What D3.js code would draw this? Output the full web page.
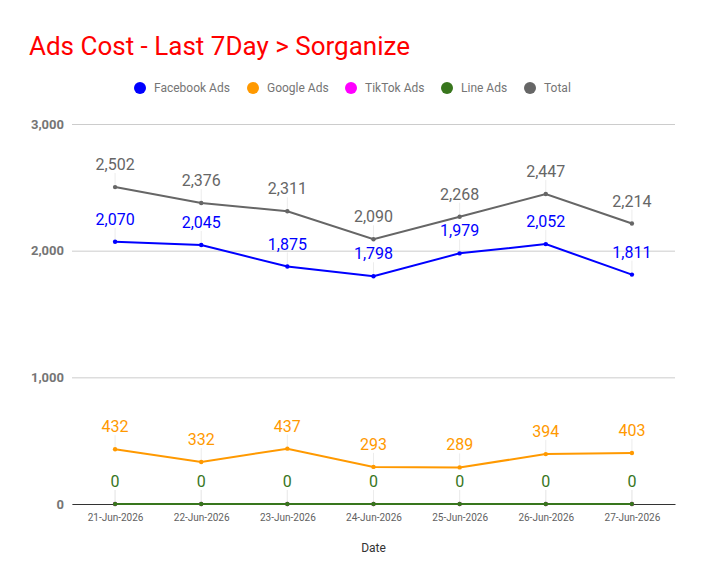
<!DOCTYPE html>
<html>
<head>
<meta charset="utf-8">
<script src="https://cdn.jsdelivr.net/npm/d3@7"></script>
<style>
  body { margin: 0; background: #fff; font-family: Roboto, sans-serif; }
</style>
</head>
<body>
<div id="chart"></div>
<script>
const dates = ['21-Jun-2026', '22-Jun-2026', '23-Jun-2026', '24-Jun-2026', '25-Jun-2026', '26-Jun-2026', '27-Jun-2026'];
const facebookAds = [2070, 2045, 1875, 1798, 1979, 2052, 1811];
const googleAds = [432, 332, 437, 293, 289, 394, 403];
const tiktokAds = [0, 0, 0, 0, 0, 0, 0];
const lineAds = [0, 0, 0, 0, 0, 0, 0];
const total = [2502, 2376, 2311, 2090, 2268, 2447, 2214];
const yTicks = [0, 1000, 2000, 3000];

const series = [
  {name: 'Facebook Ads', color: '#0000ff', values: facebookAds},
  {name: 'Google Ads', color: '#ff9900', values: googleAds},
  {name: 'TikTok Ads', color: '#ff00ff', values: tiktokAds},
  {name: 'Line Ads', color: '#38761d', values: lineAds},
  {name: 'Total', color: '#666666', values: total}
];

const width = 704;
const height = 585;
const margin = {top: 124, right: 29, bottom: 81, left: 72};
const innerW = width - margin.left - margin.right;
const innerH = height - margin.top - margin.bottom;

const svg = d3.select('#chart').append('svg')
  .attr('width', width)
  .attr('height', height);

svg.append('text')
  .attr('x', 29)
  .attr('y', 55)
  .attr('fill', '#ff0000')
  .attr('font-size', 26)
  .text('Ads Cost - Last 7Day > Sorganize');

// legend
const legendX = [140, 253, 351, 447, 530];
const legend = svg.append('g').selectAll('g')
  .data(series)
  .join('g')
  .attr('transform', (d, i) => 'translate(' + legendX[i] + ',88)');
legend.append('circle').attr('r', 6).attr('fill', d => d.color);
legend.append('text')
  .attr('x', 14)
  .attr('dy', '0.35em')
  .attr('font-size', 12)
  .attr('fill', '#757575')
  .text(d => d.name);

const x = d3.scalePoint()
  .domain(dates)
  .range([0, innerW])
  .padding(0.5);
const y = d3.scaleLinear()
  .domain([0, 3000])
  .range([innerH, 0]);

const g = svg.append('g')
  .attr('transform', 'translate(' + margin.left + ',' + margin.top + ')');

// gridlines + y labels
const yAxis = g.append('g')
  .call(d3.axisLeft(y).tickValues(yTicks).tickFormat(d3.format(',')).tickSize(-innerW).tickPadding(8));
yAxis.select('.domain').remove();
yAxis.selectAll('.tick line').attr('stroke', '#cccccc');
yAxis.selectAll('.tick text')
  .attr('font-family', 'Roboto, sans-serif')
  .attr('font-size', 13)
  .attr('font-weight', 'bold')
  .attr('fill', '#757575');

// x axis
const xAxis = g.append('g')
  .attr('transform', 'translate(0,' + innerH + ')')
  .call(d3.axisBottom(x).tickSize(0).tickPadding(10));
xAxis.select('.domain').attr('stroke', '#333333');
xAxis.selectAll('.tick text')
  .attr('font-family', 'Roboto, sans-serif')
  .attr('font-size', 10)
  .attr('fill', '#616161');

svg.append('text')
  .attr('x', margin.left + innerW / 2)
  .attr('y', 552)
  .attr('text-anchor', 'middle')
  .attr('font-size', 12)
  .attr('fill', '#333333')
  .text('Date');

const line = d3.line()
  .x((d, i) => x(dates[i]))
  .y(d => y(d));

// leader lines
series.forEach(s => {
  g.append('g').selectAll('line')
    .data(s.values)
    .join('line')
    .attr('x1', (d, i) => x(dates[i]))
    .attr('x2', (d, i) => x(dates[i]))
    .attr('y1', d => y(d) - 14)
    .attr('y2', d => y(d))
    .attr('stroke', '#ececec');
});

series.forEach((s, si) => {
  const sg = g.append('g');
  sg.append('path')
    .datum(s.values)
    .attr('fill', 'none')
    .attr('stroke', s.color)
    .attr('stroke-width', 2)
    .attr('d', line);
  sg.selectAll('circle')
    .data(s.values)
    .join('circle')
    .attr('cx', (d, i) => x(dates[i]))
    .attr('cy', d => y(d))
    .attr('r', 2.2)
    .attr('fill', s.color);
  // a label that a later series covers exactly is not drawn
  const hidden = (d, i) => series.slice(si + 1).some(o => o.values[i] === d);
  sg.selectAll('text')
    .data(s.values.map((v, i) => ({v, i})).filter(p => !hidden(p.v, p.i)))
    .join('text')
    .attr('x', p => x(dates[p.i]))
    .attr('y', p => y(p.v) - 17)
    .attr('text-anchor', 'middle')
    .attr('font-size', 16)
    .attr('fill', s.color)
    .text(p => d3.format(',')(p.v));
});
</script>
</body>
</html>
